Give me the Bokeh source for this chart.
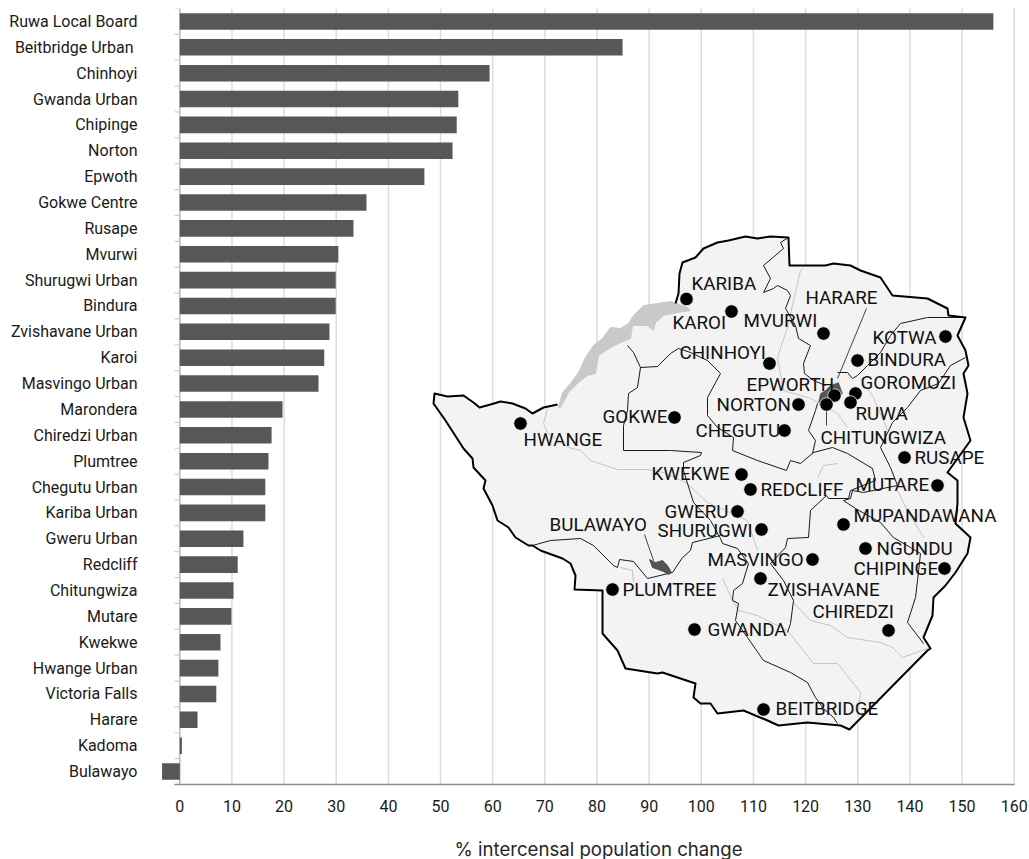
from bokeh.plotting import figure
from bokeh.models import Range1d, FixedTicker
from bokeh.embed import file_html
from bokeh.resources import INLINE
from bokeh.core.properties import value

# ---- chart data
places = ["Ruwa Local Board", "Beitbridge Urban ", "Chinhoyi", "Gwanda Urban", "Chipinge", "Norton", "Epwoth",
          "Gokwe Centre", "Rusape", "Mvurwi", "Shurugwi Urban", "Bindura", "Zvishavane Urban", "Karoi",
          "Masvingo Urban", "Marondera", "Chiredzi Urban", "Plumtree", "Chegutu Urban", "Kariba Urban",
          "Gweru Urban", "Redcliff", "Chitungwiza", "Mutare", "Kwekwe", "Hwange Urban", "Victoria Falls",
          "Harare", "Kadoma", "Bulawayo"]
change = [156.0, 84.9, 59.4, 53.4, 53.1, 52.3, 46.9, 35.8, 33.3, 30.4, 29.9, 29.9, 28.7, 27.7, 26.6,
          19.7, 17.6, 17.0, 16.4, 16.4, 12.2, 11.1, 10.3, 9.9, 7.8, 7.4, 7.0, 3.4, 0.4, -3.4]
x_ticks = [0, 10, 20, 30, 40, 50, 60, 70, 80, 90, 100, 110, 120, 130, 140, 150, 160]
x_title = "% intercensal population change"

# ---- inset map, in the map's own sheet coordinates
country_x = [434, 447, 463, 473, 479, 490, 500, 512, 525, 532, 543, 557, 578, 595, 615, 640, 675, 678, 679, 682, 695, 703, 717, 728, 745, 757, 770, 788, 789, 807, 825, 833, 850, 860, 880, 892, 927, 947, 948, 965, 957, 965, 968, 963, 967, 963, 970, 947, 957, 957, 955, 970, 967, 955, 945, 933, 932, 923, 930, 927, 849, 840, 807, 778, 767, 743, 717, 710, 700, 693, 695, 662, 657, 625, 617, 602, 602, 602, 574, 575, 570, 562, 540, 532, 528, 515, 508, 497, 492, 483, 485, 473, 472, 463, 445, 433]
country_y = [393, 396, 395, 402, 407, 404, 401, 403, 408, 413, 407, 404, 378, 355, 335, 315, 303, 293, 273, 262, 257, 248, 242, 240, 236, 238, 236, 237, 265, 265, 265, 263, 265, 270, 277, 295, 298, 308, 315, 317, 335, 350, 365, 373, 393, 417, 440, 472, 480, 503, 523, 537, 553, 572, 585, 597, 615, 637, 648, 650, 729, 725, 722, 725, 720, 710, 713, 703, 703, 697, 683, 672, 673, 668, 650, 633, 613, 590, 589, 575, 563, 558, 550, 545, 545, 537, 527, 520, 505, 488, 480, 467, 458, 448, 420, 403]
lake_x = [558, 562, 570, 578, 585, 593, 602, 610, 620, 628, 633, 643, 657, 670, 687, 690, 677, 663, 655, 653, 647, 632, 630, 618, 610, 598, 595, 587, 578, 568, 560]
lake_y = [407, 392, 383, 372, 357, 345, 338, 327, 328, 323, 315, 305, 303, 301, 307, 310, 312, 315, 322, 330, 325, 325, 338, 343, 347, 355, 373, 375, 382, 392, 407]
harare_x = [818, 820, 825, 830, 838, 842, 837, 830]
harare_y = [402, 393, 390, 385, 382, 393, 398, 403]
bulawayo_x = [649, 652, 663, 668, 671, 667, 662, 655]
bulawayo_y = [559, 567, 571, 574, 572, 565, 560, 562]

border_x = [
    [627, 633, 640, 637, 628, 627, 623, 623, 670, 701, 700, 683, 683, 687, 693, 710, 720, 722, 737, 748, 742, 733, 732, 738, 735],
    [640, 657, 670, 678, 690, 707, 720, 707, 707, 717, 733, 732, 757, 786, 790, 800, 813, 832, 847, 872, 875, 850, 848, 828, 826, 810, 808, 787, 785, 770, 783, 793, 790, 787],
    [532, 550, 580, 593, 613, 617, 619, 633, 647, 672, 682, 690, 692, 720],
    [735, 747, 763, 790, 807, 815, 823, 833, 837],
    [780, 783, 763, 770, 763, 773, 777, 787, 790, 785, 795, 798, 810, 803, 804, 813, 825],
    [817, 815, 808, 815, 812],
    [837, 847, 852, 857, 867, 880, 890, 900, 927, 965],
    [965, 950, 938, 920, 907, 892, 880, 890, 897, 863, 852, 850, 843, 855, 880, 893, 910, 920, 917, 915, 907, 923],
    [788, 780],
]
border_y = [
    [345, 352, 367, 387, 393, 410, 425, 450, 450, 452, 455, 462, 470, 483, 502, 520, 538, 543, 548, 563, 583, 590, 600, 603, 620],
    [367, 366, 353, 348, 352, 360, 373, 397, 415, 427, 437, 450, 460, 470, 460, 463, 452, 447, 453, 468, 480, 490, 498, 498, 495, 510, 537, 538, 547, 563, 580, 600, 623, 632],
    [545, 540, 538, 545, 565, 567, 559, 561, 578, 572, 557, 550, 542, 535],
    [620, 637, 660, 672, 682, 697, 708, 717, 723],
    [242, 248, 265, 278, 292, 288, 285, 290, 295, 308, 325, 338, 345, 363, 373, 380, 385],
    [403, 410, 430, 440, 453],
    [372, 372, 378, 375, 365, 352, 335, 323, 317, 317],
    [357, 365, 383, 390, 407, 422, 447, 467, 485, 492, 490, 498, 500, 508, 522, 537, 547, 553, 580, 597, 622, 643],
    [237, 242],
]
river_x = [
    [547, 543, 547, 568, 580, 590, 617, 647, 663, 687, 707, 725, 747, 757],
    [802, 800, 787, 777, 783, 810, 837, 847],
    [860, 873, 887],
    [817, 823, 837],
    [722, 732, 738, 757, 787, 813, 837, 860, 857],
    [793, 810, 830, 847, 880, 892, 902, 927],
    [620, 632, 633],
    [897, 908, 923],
]
river_y = [
    [408, 423, 432, 447, 450, 460, 469, 469, 472, 483, 502, 510, 520, 550],
    [268, 270, 327, 357, 390, 398, 413, 427],
    [378, 397, 430],
    [477, 465, 463],
    [578, 600, 610, 615, 630, 663, 663, 692, 717],
    [602, 620, 625, 637, 642, 647, 657, 648],
    [567, 570, 582],
    [490, 512, 537],
]
leader_x = [[866, 837], [826, 826], [644, 653]]
leader_y = [[308, 378], [410, 425], [534, 560]]

town_x = [686, 731, 823, 945, 769, 857, 855, 850, 834, 826, 798, 784, 674, 520, 904, 937, 741, 750, 737, 761, 843, 865, 812, 944, 612, 760, 694, 888, 763]
town_y = [298.5, 311, 333, 336, 363, 360, 393, 402, 395, 404, 404, 430, 417, 423, 457, 485, 474, 489, 511, 529, 524, 548, 559, 568, 589, 578, 629, 630, 709]

label_text = ["KARIBA", "KAROI", "MVURWI", "HARARE", "KOTWA", "CHINHOYI", "BINDURA", "GOROMOZI", "EPWORTH", "NORTON", "RUWA",
              "CHEGUTU", "CHITUNGWIZA", "GOKWE", "HWANGE", "RUSAPE", "KWEKWE", "MUTARE", "REDCLIFF", "GWERU", "SHURUGWI",
              "MUPANDAWANA", "BULAWAYO", "NGUNDU", "CHIPINGE", "MASVINGO", "PLUMTREE", "ZVISHAVANE", "CHIREDZI", "GWANDA", "BEITBRIDGE"]
label_x = [691, 672, 743, 805, 872, 679, 867, 860, 746, 716, 855, 695, 820, 602, 523, 914, 651, 855, 760, 664, 657, 853, 549, 876, 853, 707, 622, 767, 812, 707, 775]
label_y = [283, 322, 320, 297, 337, 352, 359, 382, 384, 404, 413, 430, 437, 416, 439, 457, 473, 484, 489, 511, 530, 515, 524, 548, 568, 559, 589, 589, 611, 629, 708]

FONT = "Roboto"
INK = "#1a1a1a"
rows = list(range(len(places)))
row_base = rows[-1] + 0.5     # where the bar rows end and the value axis sits
# the plotting frame runs on below the axis so that the axis title can sit on it
FRAME_TOP, AXIS_Y, FRAME_BOTTOM = 8, 784, 859
row_px = (AXIS_Y - FRAME_TOP) / len(rows)

p = figure(width=1029, height=859, output_backend="svg", toolbar_location=None,
           x_range=Range1d(-6.96, 162.93),
           y_range=Range1d(row_base + (FRAME_BOTTOM - AXIS_Y) / row_px, -0.5),
           min_border_left=143, min_border_right=0, min_border_top=FRAME_TOP, min_border_bottom=0)
p.outline_line_color = None
p.background_fill_color = "white"
p.extra_x_ranges = {"map_x": Range1d(143, 1029)}
p.extra_y_ranges = {"map_y": Range1d(FRAME_BOTTOM, FRAME_TOP)}

p.xaxis.fixed_location = row_base
p.xaxis.ticker = FixedTicker(ticks=x_ticks)
p.xaxis.bounds = (-1, 160)
p.xaxis.axis_line_color = "#8a8a8a"
p.xaxis.axis_line_width = 1.5
p.xaxis.major_tick_line_color = None
p.xaxis.minor_tick_line_color = None
p.xaxis.major_tick_out = 0
p.xaxis.minor_tick_out = 0
p.xaxis.major_label_standoff = 15
p.xaxis.major_label_text_font = FONT
p.xaxis.major_label_text_font_size = "16px"
p.xaxis.major_label_text_color = INK

p.yaxis.ticker = FixedTicker(ticks=rows)
p.yaxis.major_label_overrides = dict(zip(rows, places))
p.yaxis.axis_line_color = None
p.yaxis.major_tick_line_color = None
p.yaxis.minor_tick_line_color = None
p.yaxis.major_tick_out = 0
p.yaxis.minor_tick_out = 0
p.yaxis.major_label_standoff = 6
p.yaxis.major_label_text_font = FONT
p.yaxis.major_label_text_font_size = "16px"
p.yaxis.major_label_text_color = INK

p.ygrid.visible = False
p.xgrid.visible = False
# grid rules stop at the value axis
p.segment(x0=x_ticks[1:], x1=x_ticks[1:], y0=[-0.5] * (len(x_ticks) - 1), y1=[row_base] * (len(x_ticks) - 1),
          line_color="#dcdcdc", line_width=1.5)
p.segment(x0=[0], x1=[0], y0=[-0.5], y1=[row_base], line_color="#b8b8b8", line_width=1.5)

tick_y = [r - 0.5 for r in rows] + [row_base]
p.segment(x0=[-1] * len(tick_y), x1=[0] * len(tick_y), y0=tick_y, y1=tick_y, line_color="#cfcfcf", line_width=1.2)

p.hbar(y=rows, left=[0] * len(rows), right=change, height=0.64, fill_color="#575757", line_color=None)

m = dict(x_range_name="map_x", y_range_name="map_y")
p.patch(country_x, country_y, fill_color="#f3f3f3", line_color=None, **m)
p.patch(lake_x, lake_y, fill_color="#c9c9c9", line_color="#c9c9c9", line_width=1, **m)
p.multi_line(river_x, river_y, line_color="#c4c4c4", line_width=1, **m)
p.multi_line(border_x, border_y, line_color="#1a1a1a", line_width=1, line_join="round", **m)
# the frontier is drawn everywhere but along the lake shore (points 12-15 of the outline)
p.line(country_x[16:] + country_x[:12], country_y[16:] + country_y[:12], line_color="#000000", line_width=2, line_join="round", **m)
p.patch(harare_x, harare_y, fill_color="#555555", line_color="#555555", line_width=0.5, **m)
p.patch(bulawayo_x, bulawayo_y, fill_color="#555555", line_color="#333333", line_width=0.7, **m)
p.multi_line(leader_x, leader_y, line_color="#444444", line_width=1, **m)
p.scatter(town_x, town_y, size=13.5, marker="circle", fill_color="#000000", line_color="#f3f3f3", line_width=0.8, **m)
p.text(label_x, label_y, text=label_text, text_align="left", text_baseline="middle",
       text_font=value(FONT), text_font_size="18.8px", text_color="#111111", **m)

p.text([598], [848], text=[x_title], text_align="center", text_baseline="middle",
       text_font=value("Inter"), text_font_size="18.6px", text_color="#262626", **m)

open("out.html", "w").write(file_html(p, INLINE))
